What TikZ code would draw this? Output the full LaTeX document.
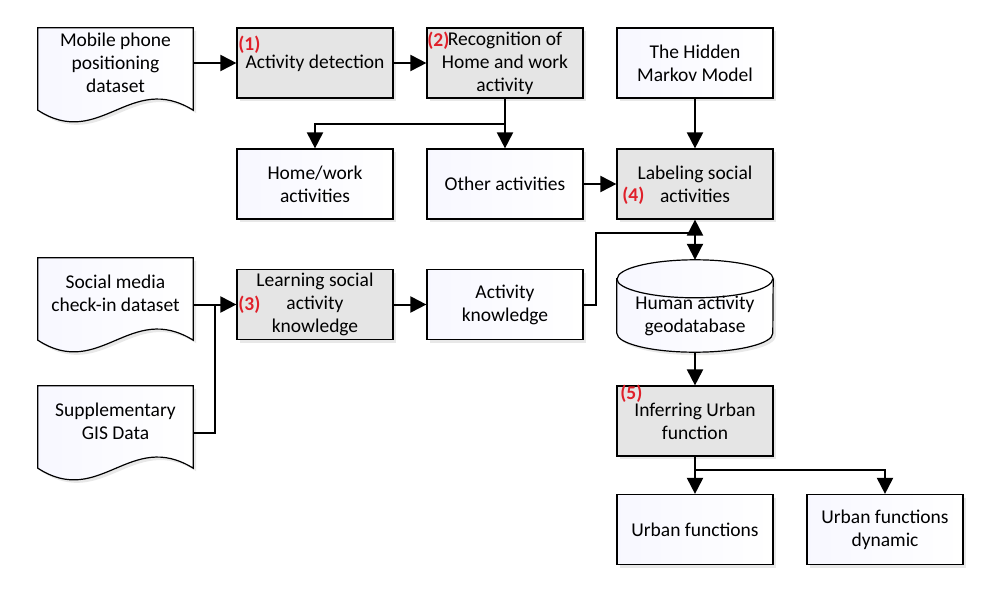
\documentclass[tikz,border=0pt]{standalone}
\usepackage{fontspec}
\setmainfont{Carlito}
\usetikzlibrary{arrows.meta,calc,shadows,backgrounds}

\definecolor{steplabel}{HTML}{E0202A}

% document outline with wavy bottom
\newcommand{\docframe}[1]{%
  \begin{scope}[on background layer]
    \draw[outline] (#1.north west) -- (#1.north east) -- ([yshift=-12pt]#1.south east)
      .. controls +(-63,-39) and +(62,40) .. ([yshift=-12pt]#1.south west) -- cycle;
  \end{scope}}

% database cylinder outline
\newcommand{\dbframe}[1]{%
  \begin{scope}[on background layer]
    \draw[outline] ([yshift=-19pt]#1.north west) -- ([yshift=19pt]#1.south west)
      arc[start angle=180, end angle=360, x radius=78pt, y radius=19pt]
      -- ([yshift=-19pt]#1.north east)
      arc[start angle=0, end angle=180, x radius=78pt, y radius=19pt] -- cycle;
    \draw[line width=1.2pt] ([yshift=-19pt]#1.north west)
      arc[start angle=180, end angle=360, x radius=78pt, y radius=19pt];
  \end{scope}}

\begin{document}
\begin{tikzpicture}[
  x=1pt, y=-1pt,
  txt/.style={align=center, font=\fontsize{19.5}{23}\selectfont},
  box/.style={txt, draw, line width=1.2pt, minimum width=156pt, minimum height=70pt,
    drop shadow={opacity=0.18, shadow xshift=3pt, shadow yshift=-3pt}},
  grey/.style={box, fill=gray!20},
  plain/.style={box, left color=blue!3!white, right color=white},
  doc/.style={txt, minimum width=155pt, minimum height=70pt},
  outline/.style={line width=1.2pt, left color=blue!3!white, right color=white,
    drop shadow={opacity=0.18, shadow xshift=3pt, shadow yshift=-3pt}},
  num/.style={text=steplabel, font=\fontsize{19.5}{23}\selectfont\bfseries, inner sep=0pt},
  line/.style={line width=2pt},
  arr/.style={line width=2pt, -{Triangle[length=16pt,width=16pt]}}
]
\useasboundingbox (0,0) rectangle (988,589);

% Data sources
\node[doc] (mob) at (115.5,63) {Mobile phone\\positioning\\dataset};
\node[doc] (soc) at (115.5,293) {Social media\\check-in dataset};
\node[doc] (sup) at (115.5,421) {Supplementary\\GIS Data};
\docframe{mob}
\docframe{soc}
\docframe{sup}

% Processing steps
\node[grey] (det) at (315,63) {Activity detection};
\node[grey] (rec) at (505,63) {Recognition of\\Home and work\\activity};
\node[plain] (hmm) at (695,63) {The Hidden\\Markov Model};
\node[plain] (home) at (315,184) {Home/work\\activities};
\node[plain] (other) at (505,184) {Other activities};
\node[grey] (lab) at (695,184) {Labeling social\\activities};
\node[grey] (learn) at (315,304.5) {Learning social\\activity\\knowledge};
\node[plain] (know) at (505,304.5) {Activity\\knowledge};

% Geodatabase
\node[minimum width=156pt, minimum height=92pt, inner sep=0pt] (geo) at (695,306) {};
\dbframe{geo}
\node[txt] (geotxt) at ([yshift=-10pt]geo.center) {Human activity\\geodatabase};

\node[grey] (infer) at (695,421) {Inferring Urban\\function};
\node[plain] (ufun) at (695,529.5) {Urban functions};
\node[plain] (udyn) at (885,529.5) {Urban functions\\dynamic};

% Step numbers
\node[num] (n1) at ([shift={(13,17)}]det.north west) {(1)};
\node[num] (n2) at ([shift={(12,13)}]rec.north west) {(2)};
\node[num] (n3) at ([shift={(13,0)}]learn.west) {(3)};
\node[num] (n4) at ([shift={(17,12)}]lab.west) {(4)};
\node[num] (n5) at ([shift={(15,8)}]infer.north west) {(5)};

% Junctions
\coordinate (split1) at ($(rec.south)!0.5!(other.north)$);
\coordinate (join) at ($(learn.west -| soc.east)!0.5!(learn.west)$);
\coordinate (meet) at ([yshift=-13pt]lab.south);
\coordinate (split2) at ([yshift=-13pt]infer.south);

% Arrows
\draw[arr] (mob) -- (det);
\draw[arr] (det) -- (rec);
\draw[arr] (rec) -- (other);
\draw[arr] (split1) -| (home);
\draw[arr] (hmm) -- (lab);
\draw[arr] (other) -- (lab);
\draw[arr] (learn.west -| soc.east) -- (learn.west);
\draw[line] ([yshift=-12pt]sup.east) -| (join);
\draw[arr] (learn) -- (know);
\draw[line] (know.east) -- ++(12,0) |- (meet);
\draw[arr] (meet) -- (lab.south);
\draw[arr] (meet) -- (geo.north);
\draw[arr] (geo) -- (infer);
\draw[arr] (infer) -- (ufun);
\draw[arr] (split2) -| (udyn);

\end{tikzpicture}
\end{document}
